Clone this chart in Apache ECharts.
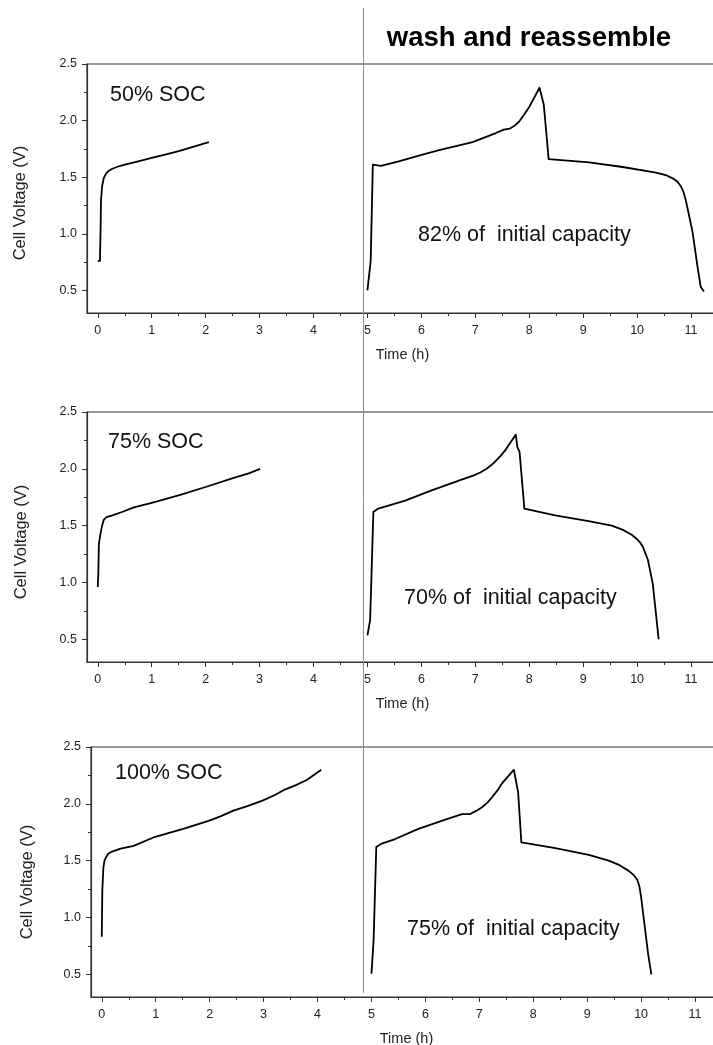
<!DOCTYPE html>
<html>
<head>
<meta charset="utf-8">
<script src="https://cdn.jsdelivr.net/npm/echarts@6/dist/echarts.min.js"></script>
<style>
html,body{margin:0;padding:0;background:#fff;}
#chart{width:713px;height:1045px;}
</style>
</head>
<body>
<div id="chart"></div>
<script>
// ---------- tick values and texts ----------
const xTicks = [0, 1, 2, 3, 4, 5, 6, 7, 8, 9, 10, 11];
const xMinorTicks = [0.5, 1.5, 2.5, 3.5, 4.5, 5.5, 6.5, 7.5, 8.5, 9.5, 10.5];
const yTicks = [0.5, 1.0, 1.5, 2.0, 2.5];
const yMinorTicks = [0.75, 1.25, 1.75, 2.25];
const socLabels = ['50% SOC', '75% SOC', '100% SOC'];
const capacityLabels = ['82% of  initial capacity', '70% of  initial capacity', '75% of  initial capacity'];
const headerText = 'wash and reassemble';
const xTitle = 'Time (h)';
const yTitle = 'Cell Voltage (V)';

// ---------- data: panel 1 (50% SOC) ----------
const p1ChargeTime = [0, 0.04, 0.05, 0.06, 0.08, 0.11, 0.15, 0.2, 0.25, 0.35, 0.5, 0.75, 1.0, 1.25, 1.5, 1.75, 2.06];
const p1ChargeVolt = [0.76, 0.76, 1.0, 1.3, 1.42, 1.49, 1.53, 1.555, 1.57, 1.59, 1.61, 1.64, 1.67, 1.70, 1.73, 1.765, 1.81];
const p1WashTime = [5.0, 5.06, 5.10, 5.25, 5.58, 6.02, 6.33, 6.95, 7.38, 7.53, 7.64, 7.73, 7.81, 7.9, 8.0, 8.1, 8.19, 8.27, 8.36, 9.11, 9.73, 10.35, 10.55, 10.66, 10.75, 10.81, 10.86, 10.9, 10.96, 11.03, 11.12, 11.18, 11.24];
const p1WashVolt = [0.5, 0.76, 1.61, 1.60, 1.64, 1.70, 1.74, 1.81, 1.89, 1.92, 1.93, 1.955, 1.99, 2.05, 2.12, 2.21, 2.29, 2.14, 1.66, 1.63, 1.59, 1.54, 1.515, 1.49, 1.46, 1.42, 1.37, 1.30, 1.17, 1.01, 0.71, 0.53, 0.49];

// ---------- data: panel 2 (75% SOC) ----------
const p2ChargeTime = [0.0, 0.01, 0.02, 0.05, 0.08, 0.11, 0.16, 0.27, 0.45, 0.67, 1.0, 1.53, 2.0, 2.52, 2.8, 3.01];
const p2ChargeVolt = [0.96, 1.08, 1.34, 1.43, 1.50, 1.55, 1.575, 1.59, 1.62, 1.66, 1.70, 1.77, 1.84, 1.92, 1.96, 2.0];
const p2WashTime = [5.0, 5.05, 5.11, 5.20, 5.70, 6.19, 6.72, 6.96, 7.1, 7.21, 7.34, 7.46, 7.55, 7.62, 7.75, 7.78, 7.82, 7.91, 8.48, 9.10, 9.53, 9.75, 9.9, 10.0, 10.06, 10.11, 10.15, 10.2, 10.29, 10.40];
const p2WashVolt = [0.535, 0.67, 1.62, 1.65, 1.72, 1.81, 1.90, 1.94, 1.97, 2.0, 2.05, 2.11, 2.16, 2.21, 2.30, 2.19, 2.15, 1.65, 1.59, 1.54, 1.50, 1.46, 1.42, 1.38, 1.35, 1.31, 1.26, 1.20, 0.99, 0.50];

// ---------- data: panel 3 (100% SOC) ----------
const p3ChargeTime = [0.0, 0.01, 0.03, 0.05, 0.08, 0.12, 0.19, 0.35, 0.59, 0.99, 1.51, 1.98, 2.2, 2.44, 2.7, 2.99, 3.2, 3.37, 3.6, 3.80, 4.07];
const p3ChargeVolt = [0.83, 1.24, 1.44, 1.50, 1.53, 1.56, 1.58, 1.605, 1.63, 1.71, 1.78, 1.85, 1.89, 1.94, 1.98, 2.03, 2.075, 2.12, 2.165, 2.21, 2.30];
const p3WashTime = [5.0, 5.04, 5.09, 5.19, 5.44, 5.87, 6.37, 6.68, 6.83, 6.95, 7.05, 7.15, 7.24, 7.34, 7.42, 7.53, 7.64, 7.72, 7.78, 8.41, 9.03, 9.40, 9.6, 9.77, 9.87, 9.93, 9.97, 10.0, 10.13, 10.19];
const p3WashVolt = [0.505, 0.80, 1.62, 1.65, 1.69, 1.78, 1.86, 1.91, 1.91, 1.94, 1.97, 2.01, 2.06, 2.12, 2.18, 2.24, 2.30, 2.10, 1.66, 1.61, 1.55, 1.50, 1.46, 1.41, 1.37, 1.33, 1.27, 1.18, 0.68, 0.50];

const panelData = [
  [[p1ChargeTime, p1ChargeVolt], [p1WashTime, p1WashVolt]],
  [[p2ChargeTime, p2ChargeVolt], [p2WashTime, p2WashVolt]],
  [[p3ChargeTime, p3ChargeVolt], [p3WashTime, p3WashVolt]]
];

// ---------- layout (positions / sizes) ----------
const FONT = '"Liberation Sans", Arial, Helvetica, sans-serif';
const layout = [
  { grid: { left: 87, top: 64, width: 631, height: 249 }, soc: [110, 95], cap: [418, 235], yTitle: [20, 203] },
  { grid: { left: 87, top: 412, width: 631, height: 250 }, soc: [108, 442], cap: [404, 598], yTitle: [21, 542] },
  { grid: { left: 91, top: 747, width: 631, height: 250 }, soc: [115, 773], cap: [407, 929], yTitle: [27, 882] }
];
const X_MIN = -0.2, X_MAX = 11.5, Y_MIN = 0.3, Y_MAX = 2.5;
const AXIS_COLOR = '#333';
const TEXT_COLOR = '#222';

const grids = [], xAxes = [], yAxes = [], series = [], graphics = [];

layout.forEach((L, i) => {
  grids.push(Object.assign({
    show: true, borderColor: AXIS_COLOR, borderWidth: 1.2, backgroundColor: 'transparent',
    containLabel: false, outerBoundsMode: 'none'
  }, L.grid));
  // major x axis
  xAxes.push({
    type: 'value', gridIndex: i, position: 'bottom', min: X_MIN, max: X_MAX,
    axisLine: { show: true, onZero: false, lineStyle: { color: AXIS_COLOR, width: 1.2 } },
    axisTick: { show: true, inside: false, length: 5, customValues: xTicks, lineStyle: { color: AXIS_COLOR, width: 1 } },
    axisLabel: { show: true, customValues: xTicks, margin: 11, color: TEXT_COLOR, fontSize: 12.5, fontFamily: FONT, formatter: v => String(v) },
    splitLine: { show: false },
    name: xTitle, nameLocation: 'middle', nameGap: 34,
    nameTextStyle: { color: TEXT_COLOR, fontSize: 14.5, fontFamily: FONT }
  });
  // minor x ticks
  xAxes.push({
    type: 'value', gridIndex: i, position: 'bottom', min: X_MIN, max: X_MAX,
    axisLine: { show: false, onZero: false },
    axisTick: { show: true, inside: false, length: 3, customValues: xMinorTicks, lineStyle: { color: AXIS_COLOR, width: 1 } },
    axisLabel: { show: false },
    splitLine: { show: false }
  });
  // major y axis
  yAxes.push({
    type: 'value', gridIndex: i, position: 'left', min: Y_MIN, max: Y_MAX,
    axisLine: { show: true, onZero: false, lineStyle: { color: AXIS_COLOR, width: 1.2 } },
    axisTick: { show: true, inside: false, length: 5, customValues: yTicks, lineStyle: { color: AXIS_COLOR, width: 1 } },
    axisLabel: { show: true, customValues: yTicks, margin: 10, color: TEXT_COLOR, fontSize: 12.5, fontFamily: FONT, formatter: v => Number(v).toFixed(1) },
    splitLine: { show: false }
  });
  // minor y ticks
  yAxes.push({
    type: 'value', gridIndex: i, position: 'left', min: Y_MIN, max: Y_MAX,
    axisLine: { show: false, onZero: false },
    axisTick: { show: true, inside: false, length: 3, customValues: yMinorTicks, lineStyle: { color: AXIS_COLOR, width: 1 } },
    axisLabel: { show: false },
    splitLine: { show: false }
  });

  panelData[i].forEach(([t, v]) => {
    series.push({
      type: 'line', xAxisIndex: i * 2, yAxisIndex: i * 2,
      data: t.map((x, k) => [x, v[k]]),
      showSymbol: false, symbol: 'none', smooth: false, clip: false,
      lineStyle: { color: '#000', width: 1.8, join: 'round' },
      silent: true
    });
  });

  graphics.push({
    type: 'text', x: L.soc[0], y: L.soc[1],
    style: { text: socLabels[i], fill: '#111', font: '21.5px ' + FONT, align: 'left', verticalAlign: 'middle' }
  });
  graphics.push({
    type: 'text', x: L.cap[0], y: L.cap[1],
    style: { text: capacityLabels[i], fill: '#111', font: '21.5px ' + FONT, align: 'left', verticalAlign: 'middle' }
  });
  graphics.push({
    type: 'text', x: L.yTitle[0], y: L.yTitle[1], rotation: Math.PI / 2,
    style: { text: yTitle, fill: TEXT_COLOR, font: '16.5px ' + FONT, align: 'center', verticalAlign: 'middle' }
  });
});

// header and separator
graphics.push({
  type: 'text', x: 529, y: 38,
  style: { text: headerText, fill: '#000', font: 'bold 27.5px ' + FONT, align: 'center', verticalAlign: 'middle' }
});
graphics.push({
  type: 'line', shape: { x1: 363.5, y1: 8, x2: 363.5, y2: 993 },
  style: { stroke: '#8c8c8c', lineWidth: 1 }, z: 10
});

const chart = echarts.init(document.getElementById('chart'), null, { renderer: 'canvas' });
chart.setOption({
  animation: false,
  backgroundColor: '#fff',
  grid: grids,
  xAxis: xAxes,
  yAxis: yAxes,
  series: series,
  graphic: graphics
});
</script>
</body>
</html>
